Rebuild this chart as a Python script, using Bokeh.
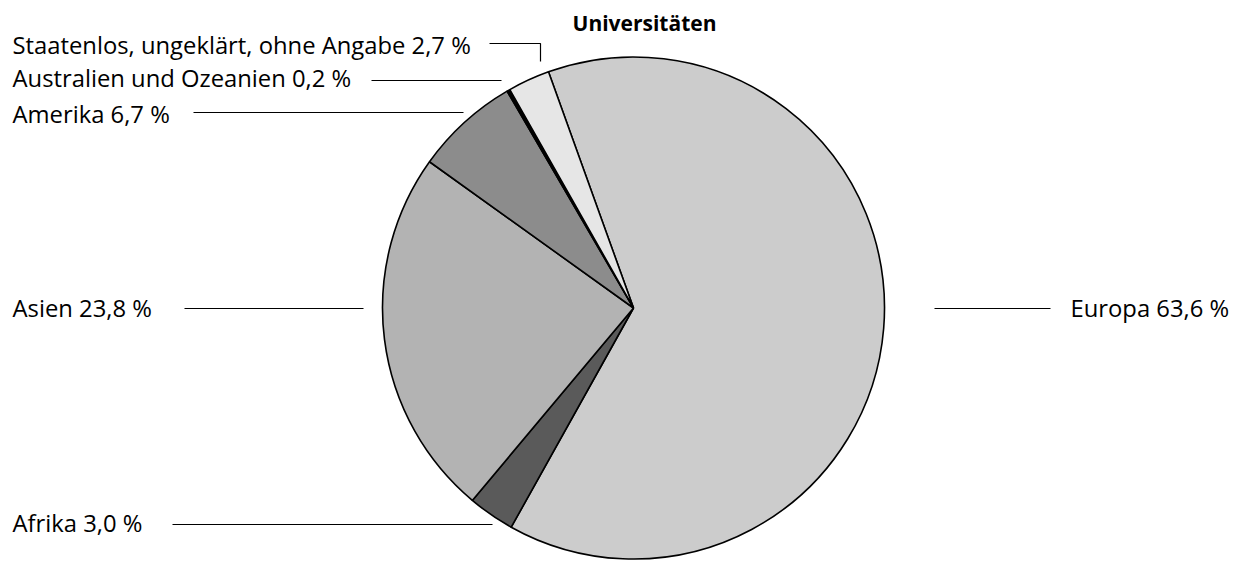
import math
from bokeh.plotting import figure
from bokeh.models import Range1d
from bokeh.core.properties import value
from bokeh.embed import file_html
from bokeh.resources import INLINE

# ---- data ----
categories = ["Europa", "Afrika", "Asien", "Amerika", "Australien und Ozeanien",
              "Staatenlos, ungeklärt, ohne Angabe"]
shares = [63.6, 3.0, 23.8, 6.7, 0.2, 2.7]
share_labels = ["63,6 %", "3,0 %", "23,8 %", "6,7 %", "0,2 %", "2,7 %"]
colors = ["#cccccc", "#5a5a5a", "#b3b3b3", "#8c8c8c", "#000000", "#e6e6e6"]
title_text = "Universitäten"

W, H = 1237, 561
OFF = 0


def Y(wy):
    return H - (wy - OFF)


p = figure(width=W, height=H, output_backend="svg", toolbar_location=None,
           x_range=Range1d(OFF, OFF + W), y_range=Range1d(0, H),
           min_border=0, outline_line_color=None)
p.axis.visible = False
p.grid.visible = False
p.background_fill_color = "white"

cx, cy, R = 633, Y(307.5), 251
start_cw = -19.8

total = sum(shares)
cum = start_cw
starts, ends = [], []
for s in shares:
    a0 = cum
    a1 = cum + s / total * 360.0
    cum = a1
    starts.append(math.radians(90 - a1))
    ends.append(math.radians(90 - a0))

p.wedge(x=[cx] * len(shares), y=[cy] * len(shares), radius=R,
        start_angle=starts, end_angle=ends, direction="anticlock",
        fill_color=colors, line_color="black", line_width=1.6)

leaders = {
    "Europa": ([934, 1050], [308, 308]),
    "Afrika": ([172, 492], [524, 524]),
    "Asien": ([184, 363], [308, 308]),
    "Amerika": ([193, 463], [112, 112]),
    "Australien und Ozeanien": ([371, 501], [80, 80]),
    "Staatenlos, ungeklärt, ohne Angabe": ([489, 540, 540], [43, 43, 61]),
}
for cat in categories:
    xs, ys = leaders[cat]
    p.line(xs, [Y(v) for v in ys], line_color="black", line_width=1.2)

label_pos = {
    "Europa": (1070, 308),
    "Afrika": (12, 523),
    "Asien": (12, 308),
    "Amerika": (12, 114),
    "Australien und Ozeanien": (12, 78),
    "Staatenlos, ungeklärt, ohne Angabe": (12, 45),
}
lx, ly, lt = [], [], []
for cat, sl in zip(categories, share_labels):
    x0, y0 = label_pos[cat]
    lx.append(x0)
    ly.append(Y(y0 - 0.5))
    lt.append(f"{cat} {sl}")

p.text(x=lx, y=ly, text=lt, text_font=value("Open Sans"), text_font_size="23.8px",
       text_color="black", text_align="left", text_baseline="alphabetic")

p.text(x=[644], y=[Y(22)], text=[title_text], text_font=value("Open Sans"),
       text_font_size="21px", text_font_style="bold", text_color="black",
       text_align="center", text_baseline="alphabetic")

open("out.html", "w").write(file_html(p, INLINE))
